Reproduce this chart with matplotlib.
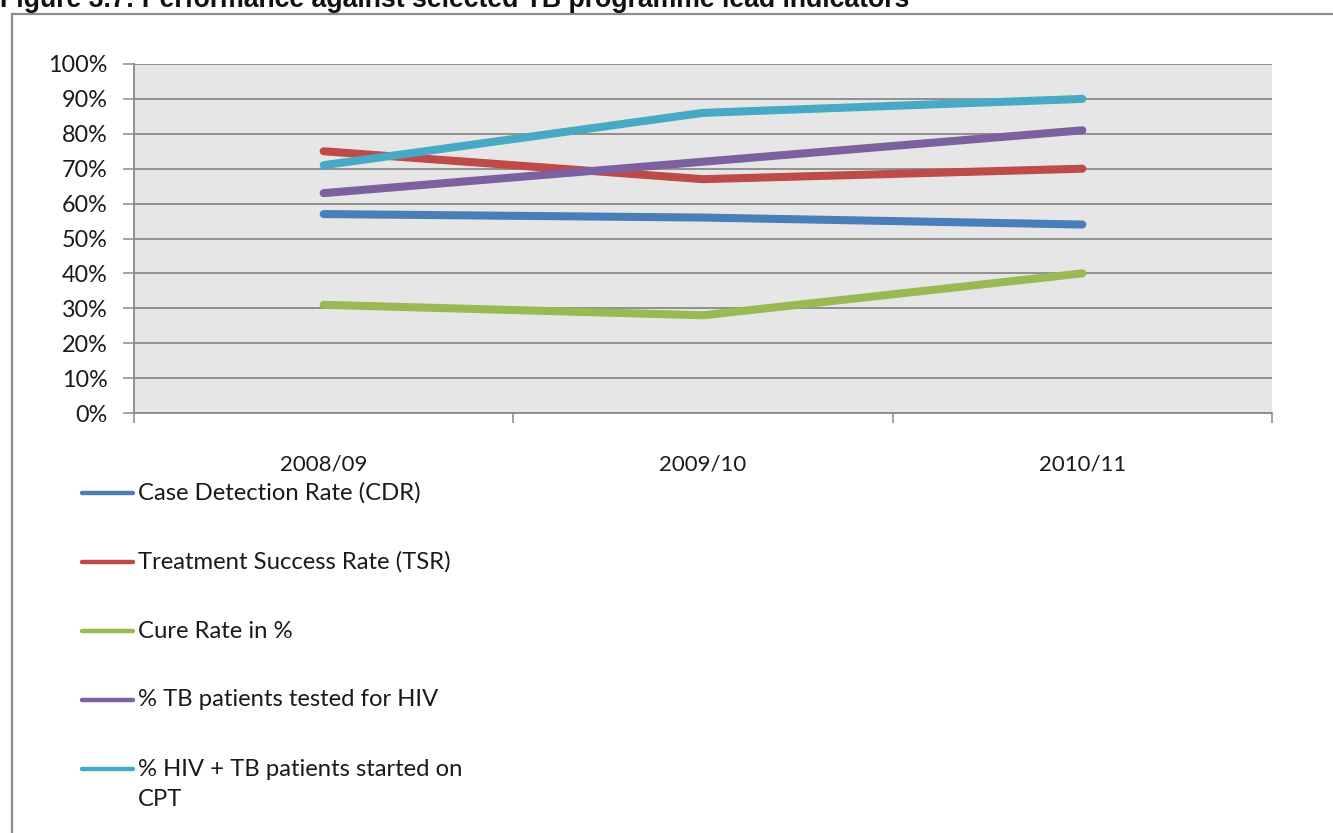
import matplotlib
matplotlib.use("Agg")
import matplotlib.pyplot as plt
from matplotlib.lines import Line2D
from matplotlib.patches import Rectangle

# ---- data ----
categories = ["2008/09", "2009/10", "2010/11"]
cdr = [57, 56, 54]
tsr = [75, 67, 70]
cure = [31, 28, 40]
hiv_tested = [63, 72, 81]
cpt = [71, 86, 90]
series_labels = ["Case Detection Rate (CDR)", "Treatment Success Rate (TSR)",
                 "Cure Rate in %", "% TB patients tested for HIV",
                 "% HIV + TB patients started on\nCPT"]
series_colors = ["#4A7EBB", "#BE4B48", "#98B954", "#7D60A0", "#46AAC5"]
y_ticks = [0, 10, 20, 30, 40, 50, 60, 70, 80, 90, 100]
title_text = "Figure 3.7: Performance against selected TB programme lead indicators"

W, H = 1333, 833
fig = plt.figure(figsize=(W / 100, H / 100), dpi=100)
FONT = "Lato"
plt.rcParams["font.family"] = [FONT, "DejaVu Sans"]

def fx(px):
    return px / W

def fy(py):
    return 1 - py / H

# outer frame
fig.add_artist(Rectangle((fx(11.5), fy(900)), fx(1400), fy(13.5) - fy(900),
                         transform=fig.transFigure, fill=False,
                         edgecolor="#8c8c8c", linewidth=1.6))

# title (clipped at the top edge, as in the reference)
fig.text(0, fy(7), title_text, fontsize=19.2, fontweight="bold",
         family="Liberation Sans", ha="left", va="baseline", color="#111111")

ax = fig.add_axes([fx(134), fy(413), fx(1272) - fx(134), fy(64) - fy(413)])
ax.set_facecolor("#E6E6E6")

all_series = [cdr, tsr, cure, hiv_tested, cpt]
x = list(range(len(categories)))
for vals, col in zip(all_series, series_colors):
    ax.plot(x, vals, color=col, linewidth=5.8, solid_capstyle="round",
            solid_joinstyle="round", zorder=3)

ax.set_xlim(-0.5, len(categories) - 0.5)
ax.set_ylim(0, 100)
ax.set_yticks(y_ticks)
ax.set_yticklabels([f"{v}%" for v in y_ticks])
ax.yaxis.grid(True, color="#8a8a8a", linewidth=1.3)
ax.set_axisbelow(True)

ax.set_xticks(x)
ax.set_xticklabels(categories)
ax.set_xticks([i - 0.5 for i in range(len(categories) + 1)], minor=True)
ax.tick_params(axis="x", which="major", length=0, pad=30, labelsize=16,
               labelcolor="#1a1a1a")
ax.tick_params(axis="x", which="minor", length=7, width=1.1, color="#8a8a8a")
ax.tick_params(axis="y", length=8, width=1.1, color="#8a8a8a", pad=11,
               labelsize=16.8, labelcolor="#1a1a1a")

for s in ["top", "right"]:
    ax.spines[s].set_visible(False)
for s in ["left", "bottom"]:
    ax.spines[s].set_color("#8a8a8a")
    ax.spines[s].set_linewidth(1.3)

# legend (manual)
leg_y = [493, 562, 631, 700, 769]
for lab, col, yy in zip(series_labels, series_colors, leg_y):
    fig.add_artist(Line2D([fx(82), fx(133)], [fy(yy), fy(yy)],
                          transform=fig.transFigure, color=col,
                          linewidth=3.2, solid_capstyle="round"))
    first, *rest = lab.split("\n")
    fig.text(fx(138), fy(yy), first, fontsize=17.2, ha="left",
             va="center", color="#1a1a1a")
    for k, line in enumerate(rest):
        fig.text(fx(138), fy(yy + 31 * (k + 1)), line, fontsize=17.2,
                 ha="left", va="center", color="#1a1a1a")

fig.savefig("out.png", dpi=100)
